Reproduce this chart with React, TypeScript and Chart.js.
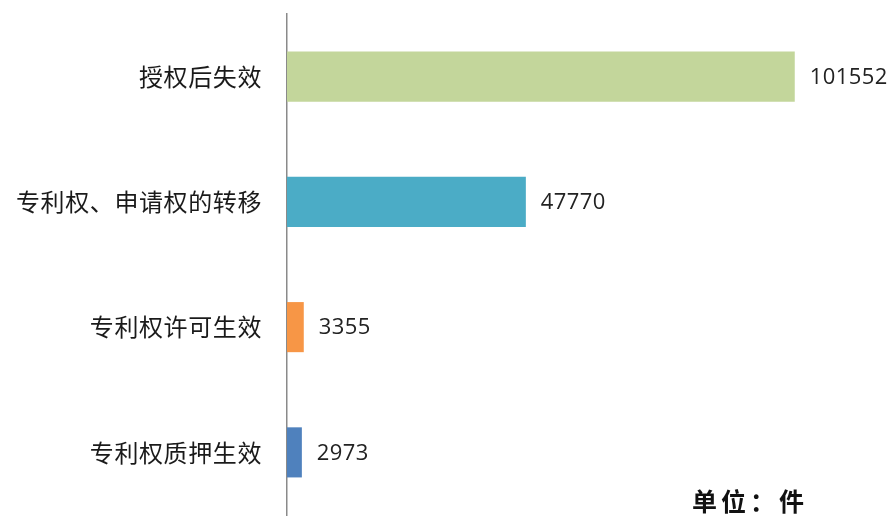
import React, { useEffect, useRef } from "react";
import { Chart, registerables } from "chart.js";

Chart.register(...registerables);

const categories = ["授权后失效", "专利权、申请权的转移", "专利权许可生效", "专利权质押生效"];
const values = [101552, 47770, 3355, 2973];
const barColors = ["#c3d69b", "#4bacc6", "#f79646", "#4f81bd"];
const unitLabel = "单位：件";
const axisMax = 120000;

const spacingPlugin = {
  id: "spacing",
  beforeDraw(chart: any) {
    (chart.ctx as any).letterSpacing = "0.6px";
  },
  afterDraw(chart: any) {
    (chart.ctx as any).letterSpacing = "0px";
  },
};

const valueLabelPlugin = {
  id: "valueLabels",
  afterDatasetsDraw(chart: any) {
    const ctx = chart.ctx;
    const meta = chart.getDatasetMeta(0);
    ctx.save();
    (ctx as any).letterSpacing = "0.4px";
    ctx.font = '22px "Open Sans", "Noto Sans", sans-serif';
    ctx.fillStyle = "#222";
    ctx.textAlign = "left";
    ctx.textBaseline = "middle";
    meta.data.forEach((bar: any, i: number) => {
      ctx.fillText(String(values[i]), bar.x + 15, bar.y + 1);
    });
    ctx.restore();
  },
};

export default function App() {
  const ref = useRef<HTMLCanvasElement>(null);
  useEffect(() => {
    document.body.style.margin = "0";
    const chart = new Chart(ref.current!, {
      type: "bar",
      data: {
        labels: categories,
        datasets: [
          {
            data: values,
            backgroundColor: barColors,
            borderWidth: 0,
            barPercentage: 0.8,
            categoryPercentage: 0.5,
          },
        ],
      },
      options: {
        indexAxis: "y",
        animation: false,
        responsive: false,
        maintainAspectRatio: false,
        layout: { padding: { top: 14, bottom: 2, right: 4, left: 0 } },
        plugins: { legend: { display: false }, tooltip: { enabled: false } },
        scales: {
          x: { display: false, min: 0, max: axisMax },
          y: {
            grid: { display: false, drawTicks: false },
            border: { display: true, color: "#8a8a8a", width: 1.5 },
            ticks: {
              color: "#1a1a1a",
              padding: 25,
              font: { size: 24, family: '"Noto Sans CJK SC", sans-serif' },
            },
            afterFit(scale: any) {
              scale.width = 287;
              scale.paddingTop = 0;
              scale.paddingBottom = 0;
            },
          },
        },
      },
      plugins: [spacingPlugin, valueLabelPlugin],
    });
    return () => chart.destroy();
  }, []);
  return (
    <div style={{ position: "relative", width: 891, height: 517, background: "#fff" }}>
      <canvas ref={ref} width={891} height={517} style={{ display: "block" }} />
      <div
        style={{
          position: "absolute",
          left: 692,
          top: 483,
          fontFamily: '"Noto Sans CJK SC", sans-serif',
          fontWeight: 700,
          fontSize: 25,
          letterSpacing: 4,
          color: "#111",
          lineHeight: "34px",
          whiteSpace: "nowrap",
        }}
      >
        {unitLabel}
      </div>
    </div>
  );
}
